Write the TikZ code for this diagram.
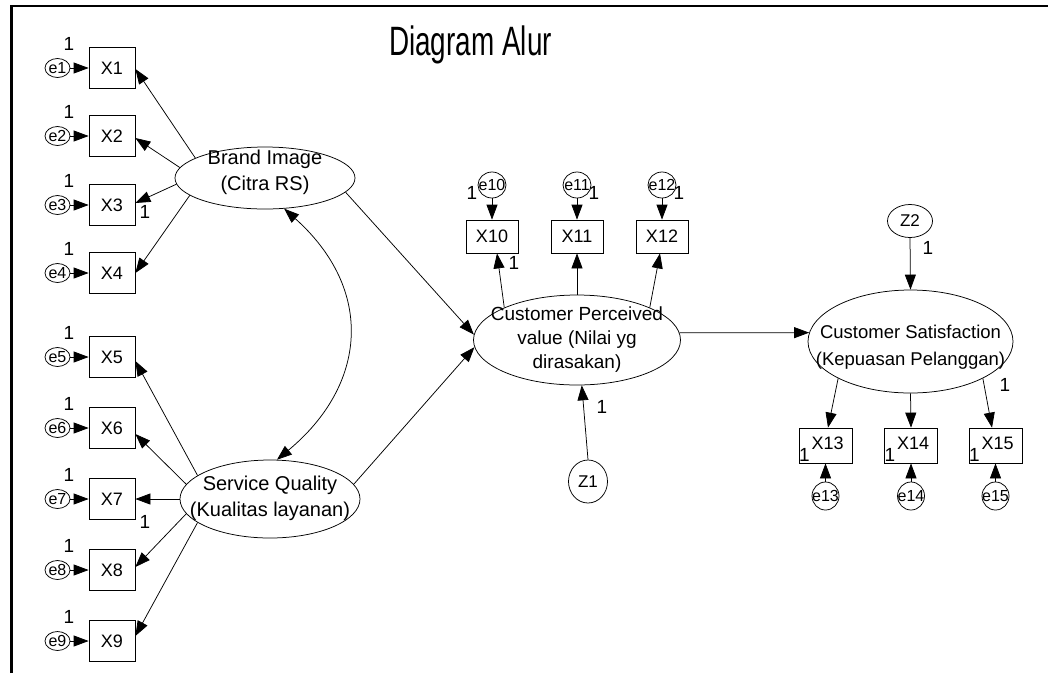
\documentclass[tikz,border=0pt]{standalone}
\usepackage{fontspec}
\setmainfont{Liberation Sans}
\usepackage{graphicx}
\usetikzlibrary{arrows.meta,shapes.geometric,calc}

\tikzset{
  ln/.style={line width=0.75pt},
  arr/.style={ln, -{Triangle[length=15pt,width=11pt]}},
  darr/.style={ln, {Triangle[length=15pt,width=11pt]}-{Triangle[length=15pt,width=11pt]}},
  obs/.style={draw, ln, rectangle, inner sep=0pt, font=\fontsize{18}{21}\selectfont},
  obsL/.style={obs, minimum width=46pt, minimum height=41pt},
  obsM/.style={obs, minimum width=52pt, minimum height=33pt},
  obsR/.style={obs, minimum width=53pt, minimum height=35pt},
  err/.style={draw, ln, ellipse, inner sep=0pt, label={[font=\fontsize{16}{19}\selectfont]center:#1}},
  errL/.style={err=#1, minimum width=25pt, minimum height=19pt},
  errM/.style={err=#1, minimum width=28pt, minimum height=26pt},
  errR/.style={err=#1, minimum width=27pt, minimum height=28pt},
  lat/.style={draw, ln, ellipse, inner sep=0pt},
  lattext/.style={align=center, inner sep=0pt},
  dist/.style={draw, ln, ellipse, inner sep=0pt, font=\fontsize{17}{20}\selectfont},
  one/.style={inner sep=0pt, font=\fontsize{19}{22}\selectfont},
}

\begin{document}
\begin{tikzpicture}[x=1pt, y=-1pt]
\useasboundingbox (0,0) rectangle (1048,673);

% frame
\draw[line width=2.2pt] (11.5,673) -- (11.5,6) -- (1048,6);

% title
\node[inner sep=0pt, anchor=base] (title) at (470.5,55)
  {\scalebox{0.68}[1]{\fontsize{41}{48}\selectfont Diagram Alur}};

% latent variables
\node[lat, minimum width=180pt, minimum height=62pt] (bi) at (265,178) {};
\node[lattext, font=\fontsize{20}{26}\selectfont] (bit) at (265,172) {Brand Image\\(Citra RS)};
\node[lat, minimum width=180pt, minimum height=78pt] (sq) at (270,499) {};
\node[lattext, font=\fontsize{20}{26}\selectfont] (sqt) at (270,498) {Service Quality\\(Kualitas layanan)};
\node[lat, minimum width=207pt, minimum height=90pt] (cpv) at (577,340) {};
\node[lattext, font=\fontsize{19}{24}\selectfont] (cpvt) at (577,340) {Customer Perceived\\value (Nilai yg\\dirasakan)};
\node[lat, minimum width=205pt, minimum height=103pt] (cs) at (910.5,341.5) {};
\node[lattext, font=\fontsize{18.5}{27}\selectfont] (cst) at (910.5,347.5) {Customer Satisfaction\\(Kepuasan Pelanggan)};

% disturbances
\node[dist, minimum width=39pt, minimum height=43pt] (z1) at (588,481.5) {Z1};
\node[dist, minimum width=45pt, minimum height=33pt] (z2) at (910,221) {Z2};

% left indicators with their errors
\foreach \i/\y in {1/68,2/136,3/205,4/273,5/357,6/428,7/499,8/570,9/641} {
  \node[obsL] (x\i) at (112,\y) {X\i};
  \node[errL=e\i] (e\i) at (57.5,\y) {};
  \draw[arr] (e\i) -- (x\i);
  \node[one] (o\i) at (69,\y-24) {1};
}
\node[one] (ox3) at (145,212) {1};
\node[one] (ox7) at (145,522) {1};

% loadings of Brand Image
\draw[arr] (bi.164) -- ($(x1.east)+(0,1)$);
\draw[arr] (bi.173) -- ($(x2.east)+(0,2)$);
\draw[arr] (bi.184) -- ($(x3.east)+(0,-2)$);
\draw[arr] (bi.193) -- ($(x4.east)+(0,0)$);

% loadings of Service Quality
\draw[arr] (sq.162) -- ($(x5.east)+(0,4)$);
\draw[arr] (sq.170) -- ($(x6.east)+(0,6)$);
\draw[arr] (sq.west) -- (x7.east);
\draw[arr] (sq.190) -- ($(x8.east)+(0,-3)$);
\draw[arr] (sq.198) -- ($(x9.east)+(0,-5)$);

% covariance between the exogenous constructs
\draw[darr] (bi.302) .. controls (375,290) and (367,385) .. (sq.80);

% structural paths
\draw[arr] (bi.350) -- (cpv.177);
\draw[arr] (sq.10) -- (cpv.184);
\draw[arr] (cpv.4) -- (cs.175);
\draw[arr] (z1.north) -- (cpv.276);
\draw[arr] (z2.south) -- (cs.north);
\node[one] (oz1) at (602,407) {1};
\node[one] (oz2) at (928,248) {1};

% indicators of Customer Perceived value
\foreach \i/\x in {10/492,11/577,12/662} {
  \node[obsM] (x\i) at (\x,236.5) {X\i};
  \node[errM=e\i] (e\i) at (\x,185) {};
  \draw[arr] (e\i.south) -- (x\i.north);
}
\draw[arr] (cpv.156) -- ($(x10.south)+(5,0)$);
\draw[arr] (cpv.north) -- (x11.south);
\draw[arr] (cpv.24) -- ($(x12.south)+(-2,0)$);
\node[one] (o10) at (472,193) {1};
\node[one] (o11) at (594,193) {1};
\node[one] (o12) at (679,193) {1};
\node[one] (ox10) at (514,263) {1};

% indicators of Customer Satisfaction
\foreach \i/\x in {13/825.5,14/911,15/995.5} {
  \node[obsR, label={[font=\fontsize{18}{21}\selectfont, xshift=2pt, yshift=2pt]center:X\i}] (x\i) at (\x,445.5) {};
  \node[errR=e\i] (e\i) at (\x,496) {};
  \draw[arr] (e\i.north) -- (x\i.south);
  \node[one] (o\i) at (\x-21,455) {1};
}
\draw[arr] (cs.207) -- ($(x13.north)+(2.5,0)$);
\draw[arr] (cs.south) -- (x14.north);
\draw[arr] (cs.333) -- ($(x15.north)+(-3.5,0)$);
\node[one] (ox15) at (1005,385) {1};

\end{tikzpicture}
\end{document}
